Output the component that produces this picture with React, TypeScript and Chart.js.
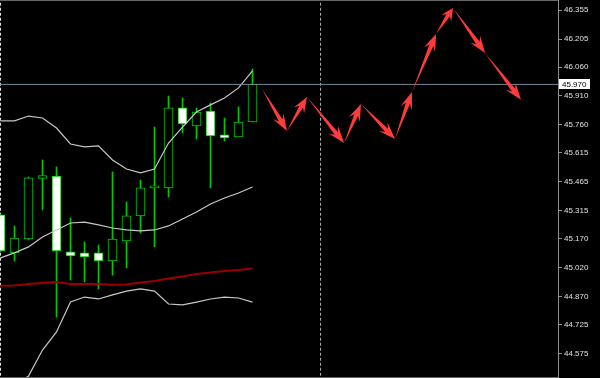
import React, { useEffect, useRef } from 'react';
import { Chart, registerables } from 'chart.js';

Chart.register(...registerables);

// ---- data ----
const barIndex = [0, 1, 2, 3, 4, 5, 6, 7, 8, 9, 10, 11, 12, 13, 14, 15, 16, 17, 18];
const opens = [45.293, 45.096, 45.168, 45.483, 45.495, 45.101, 45.096, 45.096, 45.054, 45.158, 45.288, 45.433, 45.433, 45.848, 45.755, 45.832, 45.708, 45.698, 45.775];
const highs = [45.298, 45.236, 45.490, 45.578, 45.542, 45.277, 45.153, 45.137, 45.516, 45.360, 45.474, 45.749, 45.910, 45.900, 45.848, 45.874, 45.796, 45.853, 46.050];
const lows = [45.102, 45.054, 45.163, 45.319, 44.763, 44.955, 44.945, 44.909, 44.981, 45.018, 45.199, 45.127, 45.386, 45.718, 45.687, 45.433, 45.677, 45.698, 45.775];
const closes = [45.106, 45.173, 45.485, 45.497, 45.106, 45.080, 45.075, 45.054, 45.168, 45.288, 45.433, 45.436, 45.848, 45.765, 45.827, 45.703, 45.692, 45.775, 45.970];

const upperBand = [45.781, 45.781, 45.806, 45.796, 45.744, 45.661, 45.646, 45.651, 45.578, 45.531, 45.511, 45.531, 45.666, 45.749, 45.827, 45.864, 45.900, 45.952, 46.040];
const middleBand = [45.070, 45.096, 45.127, 45.179, 45.215, 45.251, 45.256, 45.241, 45.225, 45.215, 45.210, 45.215, 45.236, 45.272, 45.308, 45.350, 45.381, 45.407, 45.438];
const lowerBand = [44.359, 44.411, 44.457, 44.592, 44.686, 44.841, 44.867, 44.857, 44.878, 44.898, 44.909, 44.898, 44.831, 44.826, 44.841, 44.857, 44.867, 44.862, 44.841];
const redMA = [44.926, 44.927, 44.935, 44.940, 44.945, 44.935, 44.935, 44.935, 44.931, 44.932, 44.942, 44.950, 44.963, 44.974, 44.987, 44.994, 45.002, 45.007, 45.015];

const forecastX = [18.68, 20.46, 21.89, 24.54, 25.75, 28.18, 29.39, 31.11, 32.32, 34.61, 37.18];
const forecastY = [45.947, 45.729, 45.905, 45.666, 45.869, 45.687, 45.931, 46.232, 46.367, 46.133, 45.890];

const priceTicks = [46.355, 46.205, 46.060, 45.910, 45.760, 45.615, 45.465, 45.315, 45.170, 45.020, 44.870, 44.725, 44.575];
const currentPrice = 45.970;
const separatorX = [0, 22.86];

const X_MIN = -0.0357;
const X_MAX = 39.82;
const Y_MIN = 44.447;
const Y_MAX = 46.408;

// ---- styles ----
const GREEN = '#00c800';
const BAND = '#c8c8c8';
const MA_RED = '#990000';
const ARROW_RED = '#ff3c3c';
const AXIS = '#909090';

function drawArrow(ctx: CanvasRenderingContext2D, x1: number, y1: number, x2: number, y2: number) {
  const dx = x2 - x1;
  const dy = y2 - y1;
  const L = Math.hypot(dx, dy);
  if (L < 1) return;
  const ux = dx / L, uy = dy / L;
  const nx = -uy, ny = ux;
  const headLen = Math.min(17, L * 0.4);
  const headW = 6;
  const neckW = 2.1;
  const bx = x2 - ux * headLen, by = y2 - uy * headLen;
  const kx = x2 - ux * headLen * 0.72, ky = y2 - uy * headLen * 0.72;
  ctx.beginPath();
  ctx.moveTo(x1, y1);
  ctx.lineTo(kx + nx * neckW, ky + ny * neckW);
  ctx.lineTo(bx + nx * headW, by + ny * headW);
  ctx.lineTo(x2, y2);
  ctx.lineTo(bx - nx * headW, by - ny * headW);
  ctx.lineTo(kx - nx * neckW, ky - ny * neckW);
  ctx.closePath();
  ctx.fill();
}

const overlayPlugin = {
  id: 'overlay',
  afterDatasetsDraw(chart: any) {
    const { ctx, chartArea } = chart;
    const xs = chart.scales.x;
    const ys = chart.scales.y;
    ctx.save();
    ctx.beginPath();
    ctx.rect(chartArea.left, chartArea.top, chartArea.right - chartArea.left, chartArea.bottom - chartArea.top);
    ctx.clip();
    ctx.fillStyle = ARROW_RED;
    for (let k = 0; k < forecastX.length - 1; k++) {
      drawArrow(
        ctx,
        xs.getPixelForValue(forecastX[k]),
        ys.getPixelForValue(forecastY[k]),
        xs.getPixelForValue(forecastX[k + 1]),
        ys.getPixelForValue(forecastY[k + 1])
      );
    }
    ctx.restore();

    // frame top/bottom
    ctx.save();
    ctx.strokeStyle = '#666666';
    ctx.lineWidth = 1;
    ctx.beginPath();
    ctx.moveTo(chartArea.left, chartArea.top + 0.5);
    ctx.lineTo(chartArea.right, chartArea.top + 0.5);
    ctx.moveTo(chartArea.left, chartArea.bottom - 0.5);
    ctx.lineTo(chartArea.right, chartArea.bottom - 0.5);
    ctx.stroke();

    // current price label
    const py = Math.round(ys.getPixelForValue(currentPrice));
    ctx.fillStyle = '#ffffff';
    ctx.fillRect(chartArea.right + 1, py - 5, 31, 10);
    ctx.fillStyle = '#000000';
    ctx.font = '8px "Liberation Sans"';
    ctx.textBaseline = 'middle';
    ctx.textAlign = 'left';
    ctx.fillText(currentPrice.toFixed(3), chartArea.right + 4, py + 0.5);
    ctx.restore();
  },
};

export default function App() {
  const ref = useRef<HTMLCanvasElement | null>(null);

  useEffect(() => {
    if (!ref.current) return;
    const pts = (vals: number[]) => barIndex.map((i) => ({ x: i, y: vals[i] }));
    const chart = new Chart(ref.current, {
      type: 'line',
      data: {
        datasets: [
          ...separatorX.map((sx, k) => ({
            type: 'line' as const,
            data: [{ x: sx, y: Y_MIN - 1 }, { x: sx, y: Y_MAX + 1 }],
            borderColor: k === 0 ? '#e0e0e0' : '#b0b0b0',
            borderWidth: 1,
            borderDash: [3, 2],
            pointRadius: 0,
            order: 20 + k,
          })),
          {
            type: 'bar' as const,
            data: barIndex.map((i) => ({ x: i, y: [lows[i], highs[i]] })),
            backgroundColor: GREEN,
            borderWidth: 0,
            barThickness: 1,
            grouped: false,
            order: 10,
          },
          {
            type: 'bar' as const,
            data: barIndex.map((i) => ({ x: i, y: [opens[i], closes[i]] })),
            backgroundColor: barIndex.map((i) => (closes[i] < opens[i] ? '#ffffff' : '#000000')),
            borderColor: GREEN,
            borderWidth: 1,
            borderSkipped: false,
            barThickness: 9,
            minBarLength: 2,
            grouped: false,
            order: 9,
          },
          {
            type: 'line' as const,
            data: pts(redMA),
            borderColor: MA_RED,
            borderWidth: 2,
            pointRadius: 0,
            tension: 0,
            order: 5,
          },
          {
            type: 'line' as const,
            data: pts(lowerBand),
            borderColor: BAND,
            borderWidth: 1.2,
            pointRadius: 0,
            tension: 0,
            order: 4,
          },
          {
            type: 'line' as const,
            data: pts(middleBand),
            borderColor: BAND,
            borderWidth: 1.2,
            pointRadius: 0,
            tension: 0,
            order: 4,
          },
          {
            type: 'line' as const,
            data: pts(upperBand),
            borderColor: BAND,
            borderWidth: 1.2,
            pointRadius: 0,
            tension: 0,
            order: 4,
          },
          {
            type: 'line' as const,
            data: [{ x: X_MIN, y: currentPrice }, { x: X_MAX, y: currentPrice }],
            borderColor: '#778899',
            borderWidth: 1,
            pointRadius: 0,
            order: 3,
          },
        ] as any,
      },
      options: {
        responsive: false,
        animation: false,
        devicePixelRatio: 1,
        events: [],
        layout: { padding: 0 },
        plugins: {
          legend: { display: false },
          tooltip: { enabled: false },
        },
        scales: {
          x: {
            type: 'linear',
            display: false,
            min: X_MIN,
            max: X_MAX,
            offset: false,
          },
          y: {
            type: 'linear',
            position: 'right',
            min: Y_MIN,
            max: Y_MAX,
            beginAtZero: false,
            afterBuildTicks: (s: any) => {
              s.ticks = priceTicks.map((v) => ({ value: v }));
            },
            afterFit: (s: any) => {
              s.width = 42;
              s.paddingTop = 0;
              s.paddingBottom = 0;
            },
            grid: {
              display: true,
              drawOnChartArea: false,
              drawTicks: true,
              tickLength: 4,
              color: AXIS,
              tickColor: AXIS,
            },
            border: { display: true, color: AXIS, width: 1 },
            ticks: {
              autoSkip: false,
              padding: 2,
              color: '#e0e0e0',
              font: { family: 'Liberation Sans', size: 8 },
              callback: (v: any) => Number(v).toFixed(3),
            },
          },
        },
      } as any,
      plugins: [overlayPlugin],
    });
    return () => chart.destroy();
  }, []);

  return (
    <div style={{ position: 'fixed', left: 0, top: 0, width: 600, height: 378, background: '#000000' }}>
      <canvas ref={ref} width={600} height={378} style={{ display: 'block' }} />
    </div>
  );
}
